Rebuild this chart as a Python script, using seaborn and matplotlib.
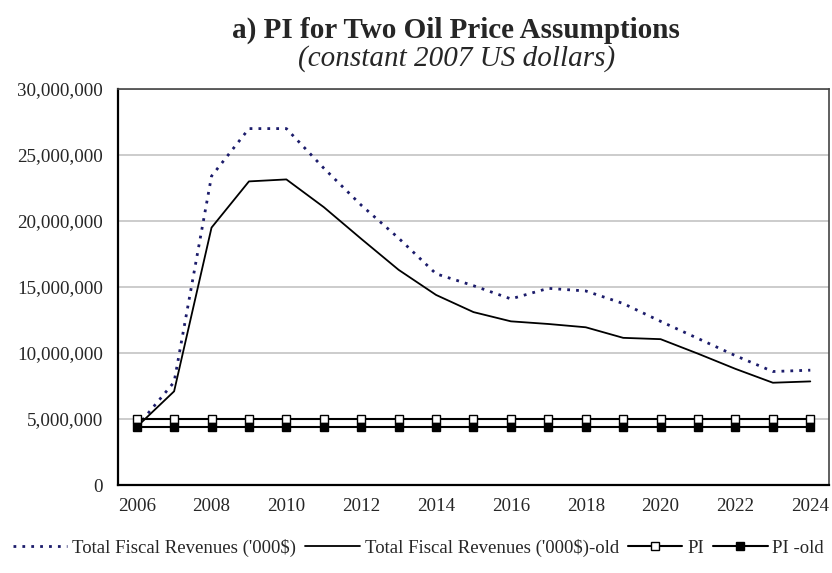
import numpy as np
import pandas as pd
import matplotlib
matplotlib.use("Agg")
import matplotlib.pyplot as plt
import seaborn as sns
from matplotlib.ticker import FuncFormatter, MultipleLocator

# valores
years = list(range(2006, 2025))
revenues = [4.4, 7.8, 23.4, 27.0, 27.0, 24.0, 21.2, 18.7, 16.0, 15.1, 14.1,
            14.9, 14.7, 13.75, 12.4, 11.1, 9.8, 8.6, 8.7]
revenues_old = [4.4, 7.1, 19.5, 23.0, 23.15, 21.05, 18.65, 16.3, 14.4, 13.1, 12.4,
                12.2, 11.95, 11.15, 11.05, 9.95, 8.8, 7.75, 7.85]
pi_new = [5.0] * len(years)
pi_old = [4.4] * len(years)

labels = ["Total Fiscal Revenues ('000$)", "Total Fiscal Revenues ('000$)-old",
          "PI", "PI -old"]

df = pd.DataFrame({
    "year": years,
    labels[0]: np.array(revenues) * 1e6,
    labels[1]: np.array(revenues_old) * 1e6,
    labels[2]: np.array(pi_new) * 1e6,
    labels[3]: np.array(pi_old) * 1e6,
})

sns.set_style("white")
plt.rcParams['font.family'] = ['Liberation Serif', 'DejaVu Serif']

fig = plt.figure(figsize=(8.32, 5.73), dpi=100)
ax = fig.add_axes([0.1418, 0.1535, 0.8546, 0.6912])

sns.lineplot(data=df, x="year", y=labels[0], ax=ax, color="#1c1c6b",
             linewidth=2.0, linestyle=(0, (1, 2.2)), label=labels[0])
sns.lineplot(data=df, x="year", y=labels[1], ax=ax, color="black",
             linewidth=1.3, label=labels[1])
sns.lineplot(data=df, x="year", y=labels[2], ax=ax, color="black",
             linewidth=1.5, marker="s", markersize=5.5, markerfacecolor="white",
             markeredgecolor="black", markeredgewidth=1, label=labels[2])
sns.lineplot(data=df, x="year", y=labels[3], ax=ax, color="black",
             linewidth=1.5, marker="s", markersize=5.5, markerfacecolor="black",
             markeredgecolor="black", markeredgewidth=1, label=labels[3])

ax.set_xlim(2005.5, 2024.5)
ax.set_ylim(0, 30e6)
ax.set_xticks(years[::2])
ax.set_xticks(np.arange(2006.5, 2024.5, 1), minor=True)
ax.yaxis.set_major_locator(MultipleLocator(5e6))
ax.yaxis.set_major_formatter(FuncFormatter(lambda v, p: f"{int(v):,}"))
ax.tick_params(axis="x", which="major", length=0, pad=9, labelsize=13.7)
ax.tick_params(axis="x", which="minor", direction="in", length=4, width=1, color="#333333")
ax.tick_params(axis="y", length=0, pad=11, labelsize=13.7)
ax.set_xlabel("")
ax.set_ylabel("")
ax.grid(axis="y", color="#c4c4c4", linewidth=1.2)
ax.set_axisbelow(True)
for s in ["top", "right"]:
    ax.spines[s].set_color("#444444")
    ax.spines[s].set_linewidth(1.2)
ax.spines["left"].set_color("black")
ax.spines["left"].set_linewidth(1.6)
ax.spines["bottom"].set_color("black")
ax.spines["bottom"].set_linewidth(1.6)

ax.get_legend().remove()
handles, lbls = ax.get_legend_handles_labels()
fig.legend(handles, lbls, loc="center", bbox_to_anchor=(0.503, 0.044), ncol=4,
           frameon=False, fontsize=13.5, handlelength=2.9, handletextpad=0.25,
           columnspacing=0.5)

fig.text(0.548, 0.934, "a) PI for Two Oil Price Assumptions", ha="center",
         va="baseline", fontsize=21, fontweight="bold")
fig.text(0.549, 0.886, "(constant 2007 US dollars)", ha="center",
         va="baseline", fontsize=21, fontstyle="italic")

fig.savefig("out.png", dpi=100)
